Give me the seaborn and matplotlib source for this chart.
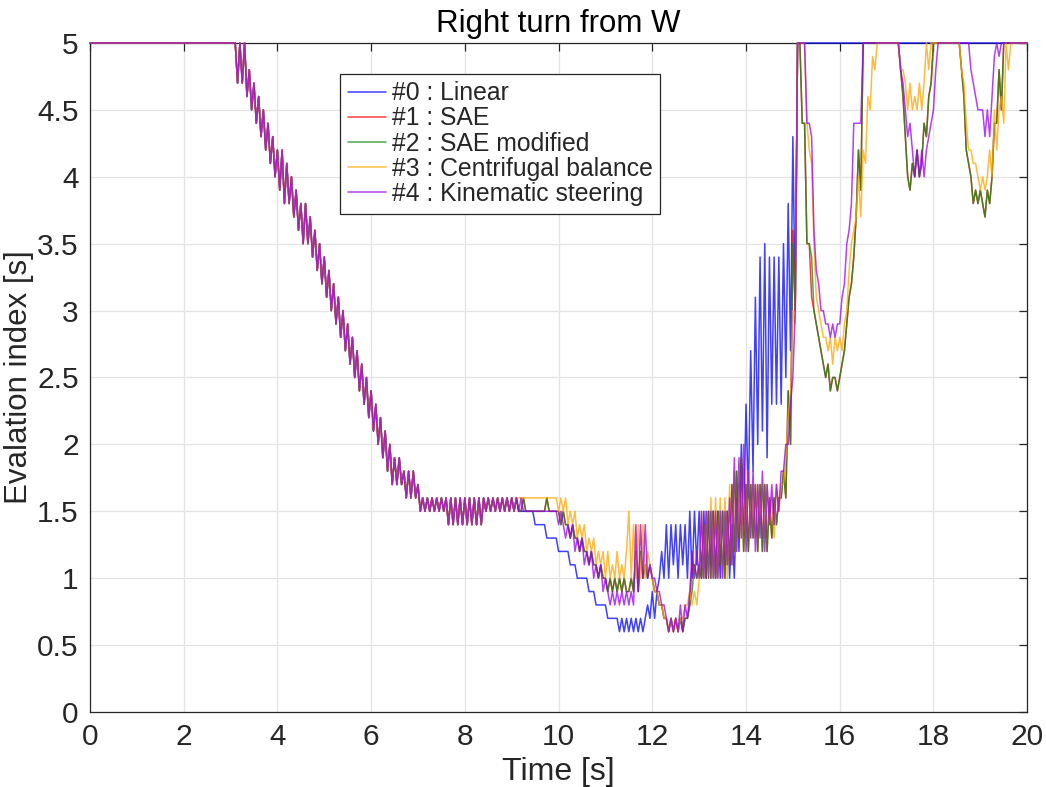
import numpy as np
import pandas as pd
import matplotlib
matplotlib.use('Agg')
import matplotlib.pyplot as plt
from matplotlib.ticker import MultipleLocator, FuncFormatter
import seaborn as sns

# logging period of the evaluation index [s]
dt = 0.05

method_names = ['#0 : Linear', '#1 : SAE', '#2 : SAE modified',
                '#3 : Centrifugal balance', '#4 : Kinematic steering']
method_colors = ['#0000FF', '#FF0000', '#138A13', '#FFA500', '#9A00F0']

# evaluation index in tenths of a second
# t = 0.00 .. 8.95 s, all methods run together here
head_common = [
    50, 50, 50, 50, 50, 50, 50, 50, 50, 50, 50, 50, 50, 50, 50, 50, 50, 50, 50, 50,
    50, 50, 50, 50, 50, 50, 50, 50, 50, 50, 50, 50, 50, 50, 50, 50, 50, 50, 50, 50,
    50, 50, 50, 50, 50, 50, 50, 50, 50, 50, 50, 50, 50, 50, 50, 50, 50, 50, 50, 50,
    50, 50, 50, 47, 50, 47, 50, 46, 48, 45, 47, 44, 46, 43, 45, 42, 44, 41, 43, 40,
    42, 39, 42, 38, 41, 38, 40, 37, 39, 36, 38, 35, 38, 35, 37, 34, 36, 33, 35, 32,
    34, 31, 33, 30, 32, 29, 31, 28, 30, 27, 29, 26, 28, 25, 27, 24, 26, 23, 25, 22,
    24, 21, 23, 20, 22, 19, 21, 18, 20, 17, 19, 17, 19, 17, 18, 16, 18, 16, 18, 16,
    17, 15, 16, 15, 16, 15, 16, 15, 16, 15, 16, 15, 16, 14, 16, 14, 16, 14, 16, 14,
    16, 14, 16, 14, 16, 14, 16, 14, 16, 15, 16, 15, 16, 15, 16, 15, 16, 15, 16, 15,
]

# t = 9.00 .. 20.00 s
tail_linear = [
    16, 15, 16, 15, 15, 15, 15, 15, 15, 15, 14, 14, 14, 14, 14, 13, 13, 13, 13, 13,
    12, 12, 12, 12, 12, 11, 11, 11, 10, 10, 10, 10, 10, 9, 9, 9, 8, 8, 8, 8,
    8, 7, 7, 7, 7, 7, 6, 7, 6, 7, 6, 7, 6, 7, 6, 7, 6, 7, 8, 7,
    9, 7, 9, 10, 12, 10, 14, 10, 14, 11, 14, 10, 14, 11, 14, 10, 15, 10, 15, 11,
    15, 10, 15, 10, 15, 11, 15, 10, 15, 10, 15, 11, 15, 10, 14, 10, 16, 12, 20, 14,
    23, 16, 27, 18, 31, 20, 34, 21, 35, 19, 34, 23, 34, 23, 34, 23, 35, 25, 38, 27,
    43, 30, 50, 50, 50, 50, 50, 50, 50, 50, 50, 50, 50, 50, 50, 50, 50, 50, 50, 50,
    50, 50, 50, 50, 50, 50, 50, 50, 50, 50, 50, 50, 50, 50, 50, 50, 50, 50, 50, 50,
    50, 50, 50, 50, 50, 50, 50, 50, 50, 50, 50, 50, 50, 50, 50, 50, 50, 50, 50, 50,
    50, 50, 50, 50, 50, 50, 50, 50, 50, 50, 50, 50, 50, 50, 50, 50, 50, 50, 50, 50,
    50, 50, 50, 50, 50, 50, 50, 50, 50, 50, 50, 50, 50, 50, 50, 50, 50, 50, 50, 50,
    50,
]

tail_sae = [
    16, 15, 16, 15, 15, 16, 15, 15, 15, 15, 15, 15, 15, 15, 15, 16, 15, 15, 15, 15,
    15, 14, 15, 14, 14, 13, 14, 13, 13, 12, 13, 12, 12, 11, 12, 11, 11, 10, 11, 10,
    10, 9, 10, 9, 10, 9, 10, 9, 10, 9, 9, 10, 9, 12, 9, 12, 10, 11, 10, 11,
    10, 9, 9, 8, 8, 7, 7, 6, 7, 6, 7, 6, 7, 6, 7, 7, 8, 11, 11, 10,
    11, 10, 14, 10, 15, 10, 15, 10, 15, 11, 15, 10, 15, 11, 17, 12, 18, 13, 19, 12,
    17, 12, 17, 13, 17, 12, 17, 12, 17, 12, 16, 13, 16, 14, 16, 16, 18, 16, 24, 20,
    36, 30, 50, 50, 44, 44, 35, 35, 31, 30, 29, 28, 27, 26, 25, 26, 24, 25, 25, 24,
    25, 26, 27, 29, 31, 32, 34, 37, 42, 39, 50, 50, 50, 50, 50, 50, 50, 50, 50, 50,
    50, 50, 50, 50, 50, 50, 48, 46, 43, 40, 39, 41, 40, 42, 40, 41, 44, 43, 46, 47,
    50, 50, 50, 50, 50, 50, 50, 50, 50, 50, 50, 50, 48, 46, 42, 41, 40, 38, 39, 38,
    39, 38, 37, 39, 38, 40, 44, 44, 48, 45, 50, 50, 50, 50, 50, 50, 50, 50, 50, 50,
    50,
]

tail_sae_modified = [
    16, 15, 16, 15, 15, 16, 15, 15, 15, 15, 15, 15, 15, 15, 15, 16, 15, 15, 15, 15,
    15, 14, 15, 14, 14, 13, 14, 13, 13, 12, 13, 12, 12, 11, 12, 11, 11, 10, 11, 10,
    10, 9, 10, 9, 10, 9, 10, 9, 10, 9, 9, 10, 9, 12, 9, 12, 10, 11, 10, 11,
    10, 9, 9, 8, 8, 7, 7, 6, 7, 6, 7, 6, 7, 6, 7, 7, 8, 9, 11, 10,
    11, 10, 14, 10, 15, 10, 15, 10, 15, 11, 15, 10, 15, 11, 17, 12, 18, 13, 19, 12,
    17, 12, 17, 13, 17, 12, 17, 12, 17, 12, 16, 13, 16, 14, 16, 16, 18, 16, 24, 20,
    35, 30, 50, 50, 44, 44, 35, 35, 34, 30, 29, 28, 27, 26, 25, 26, 24, 25, 25, 24,
    25, 26, 27, 29, 31, 32, 34, 37, 42, 39, 50, 50, 50, 50, 50, 50, 50, 50, 50, 50,
    50, 50, 50, 50, 50, 50, 48, 46, 43, 40, 39, 41, 40, 42, 40, 41, 44, 43, 46, 47,
    50, 50, 50, 50, 50, 50, 50, 50, 50, 50, 50, 50, 48, 46, 42, 41, 40, 38, 39, 38,
    39, 38, 37, 39, 38, 40, 44, 44, 48, 45, 50, 50, 50, 50, 50, 50, 50, 50, 50, 50,
    50,
]

tail_centrifugal = [
    16, 15, 16, 16, 16, 16, 16, 16, 16, 16, 16, 16, 16, 16, 16, 16, 16, 16, 16, 16,
    15, 16, 15, 16, 14, 15, 14, 15, 13, 14, 13, 14, 12, 13, 12, 13, 11, 12, 11, 12,
    10, 12, 10, 11, 10, 12, 10, 11, 10, 12, 15, 10, 14, 10, 14, 10, 14, 10, 12, 11,
    10, 9, 9, 8, 8, 7, 7, 6, 7, 6, 7, 6, 7, 7, 8, 8, 9, 8, 9, 8,
    10, 15, 10, 15, 10, 16, 10, 16, 10, 16, 10, 16, 10, 17, 11, 18, 12, 17, 13, 17,
    13, 18, 13, 17, 13, 17, 14, 17, 13, 17, 14, 16, 13, 17, 15, 17, 17, 19, 22, 24,
    30, 29, 50, 50, 50, 50, 44, 42, 41, 35, 31, 30, 29, 28, 28, 27, 28, 26, 28, 27,
    28, 27, 29, 30, 33, 35, 36, 37, 40, 37, 42, 41, 46, 45, 49, 48, 50, 50, 50, 50,
    50, 50, 50, 50, 50, 50, 48, 48, 47, 45, 47, 45, 46, 45, 47, 45, 47, 50, 48, 50,
    50, 50, 50, 50, 50, 50, 50, 50, 50, 50, 50, 50, 48, 47, 44, 42, 42, 41, 41, 40,
    39, 40, 39, 40, 42, 40, 45, 42, 45, 46, 44, 50, 48, 50, 50, 50, 50, 50, 50, 50,
    50,
]

tail_kinematic = [
    16, 15, 16, 15, 16, 15, 15, 15, 15, 15, 15, 15, 15, 15, 15, 15, 15, 15, 15, 15,
    14, 15, 14, 13, 14, 13, 14, 12, 13, 12, 13, 11, 12, 11, 12, 10, 11, 10, 11, 9,
    10, 9, 8, 9, 8, 9, 8, 9, 8, 9, 8, 9, 8, 14, 9, 14, 10, 14, 10, 11,
    10, 10, 9, 9, 8, 8, 7, 6, 7, 6, 7, 6, 8, 6, 8, 7, 9, 12, 10, 12,
    10, 15, 10, 15, 10, 15, 10, 15, 10, 15, 10, 15, 11, 16, 11, 19, 12, 19, 13, 20,
    12, 18, 13, 18, 12, 17, 13, 18, 12, 17, 14, 17, 14, 17, 15, 18, 18, 20, 20, 23,
    25, 30, 50, 50, 50, 50, 44, 44, 43, 36, 33, 32, 30, 30, 29, 29, 28, 29, 28, 29,
    29, 31, 32, 35, 36, 38, 44, 44, 44, 44, 50, 50, 50, 50, 50, 50, 50, 50, 50, 50,
    50, 50, 50, 50, 50, 50, 48, 47, 45, 43, 44, 42, 40, 42, 40, 42, 40, 42, 43, 44,
    45, 48, 50, 50, 50, 50, 50, 50, 50, 50, 50, 50, 50, 50, 50, 50, 48, 47, 46, 45,
    45, 45, 43, 45, 43, 46, 49, 50, 49, 50, 50, 50, 50, 50, 50, 50, 50, 50, 50, 50,
    50,
]

tails = [tail_linear, tail_sae, tail_sae_modified, tail_centrifugal, tail_kinematic]

frames = []
for name, tail in zip(method_names, tails):
    values = np.array(head_common + tail) / 10.0
    frames.append(pd.DataFrame({
        'time': np.arange(len(values)) * dt,
        'index': values,
        'method': name,
    }))
df = pd.concat(frames, ignore_index=True)

sns.set_theme(style='whitegrid')
plt.rcParams['font.family'] = ['Liberation Sans', 'DejaVu Sans']

fig = plt.figure(figsize=(10.46, 7.87), dpi=100)
ax = fig.add_axes([0.086, 0.0953, 0.896, 0.8501])

sns.lineplot(data=df, x='time', y='index', hue='method', hue_order=method_names,
             palette=method_colors, estimator=None, sort=False,
             linewidth=1.1, alpha=0.75, ax=ax)

# let the saturated 5 s level show on top of the frame, as in the original
for line in ax.get_lines():
    line.set_clip_on(False)
    line.set_zorder(3)

ax.set_xlim(0, 20)
ax.set_ylim(0, 5)
ax.xaxis.set_major_locator(MultipleLocator(2))
ax.yaxis.set_major_locator(MultipleLocator(0.5))
ax.yaxis.set_major_formatter(FuncFormatter(lambda v, p: f'{v:g}'))

ax.set_facecolor('white')
ax.grid(True, color='#E3E3E3', linewidth=0.9)
for s in ax.spines.values():
    s.set_visible(True)
    s.set_color('#262626')
    s.set_linewidth(0.9)
    s.set_zorder(2.5)
ax.tick_params(direction='in', length=6, width=0.9, color='#262626',
               top=True, right=True, labelsize=21.5, labelcolor='#262626', pad=8)

ax.set_xlabel('Time [s]', fontsize=23, color='#262626', labelpad=4)
ax.set_ylabel('Evalation index [s]', fontsize=22.5, color='#262626', labelpad=2)
ax.set_title('Right turn from W', fontsize=22.5, color='black', pad=8)

handles, labels = ax.get_legend_handles_labels()
leg = ax.legend(handles, labels, loc='upper left', bbox_to_anchor=(0.267, 0.954),
                fontsize=17.8, frameon=True, fancybox=False, framealpha=1,
                edgecolor='#262626', borderpad=0.3, labelspacing=0.05,
                handlelength=1.55, handletextpad=0.25, borderaxespad=0)
leg.get_frame().set_linewidth(0.9)
leg.set_zorder(5)

fig.savefig('out.png', dpi=100)
